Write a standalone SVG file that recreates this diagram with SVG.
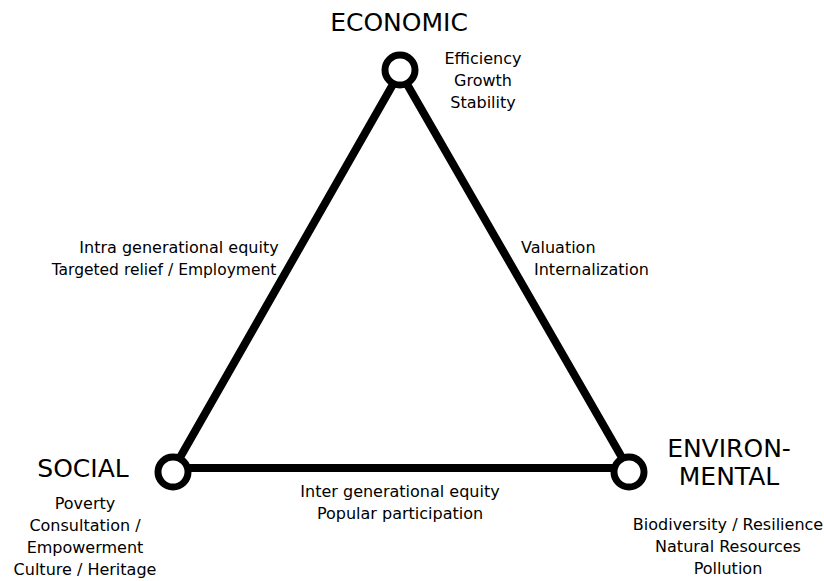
<svg xmlns="http://www.w3.org/2000/svg" width="824" height="581" viewBox="0 0 824 581">
<style>
text{font-family:"DejaVu Sans",sans-serif;fill:#000}
.t{font-size:16px}
.h{font-size:25px}
.c{text-anchor:middle}
.edge{stroke:#000;stroke-width:8;fill:none;stroke-linecap:round}
.node{fill:#fff;stroke:#000;stroke-width:7}
</style>
<rect width="824" height="581" fill="#fff"/>
<g id="connectors">
<line class="edge" x1="400" y1="72" x2="174" y2="468"/>
<line class="edge" x1="400" y1="72" x2="628" y2="468"/>
<line class="edge" x1="174" y1="468" x2="628" y2="468"/>
</g>
<g id="economic">
<circle class="node" cx="400" cy="70" r="15"/>
<text class="h c" x="399" y="31">ECONOMIC</text>
<text class="t c" x="483" y="64">Efficiency</text>
<text class="t c" x="483" y="86">Growth</text>
<text class="t c" x="483" y="108">Stability</text>
</g>
<g id="social">
<circle class="node" cx="173" cy="472" r="15"/>
<text class="h c" x="83" y="477">SOCIAL</text>
<text class="t c" x="85" y="509">Poverty</text>
<text class="t c" x="85" y="531">Consultation /</text>
<text class="t c" x="85" y="553">Empowerment</text>
<text class="t c" x="85" y="575">Culture / Heritage</text>
</g>
<g id="environmental">
<circle class="node" cx="629" cy="472" r="15"/>
<text class="h c" x="729" y="457">ENVIRON-</text>
<text class="h c" x="729" y="485">MENTAL</text>
<text class="t c" x="728" y="530">Biodiversity / Resilience</text>
<text class="t c" x="728" y="552">Natural Resources</text>
<text class="t c" x="728" y="574">Pollution</text>
</g>
<g id="edge-labels">
<text class="t c" x="179" y="253">Intra generational equity</text>
<text class="t c" x="164" y="275" style="font-size:15.5px">Targeted relief / Employment</text>
<text class="t" x="521" y="253">Valuation</text>
<text class="t" x="534" y="275">Internalization</text>
<text class="t c" x="400" y="497">Inter generational equity</text>
<text class="t c" x="400" y="519">Popular participation</text>
</g>
</svg>
